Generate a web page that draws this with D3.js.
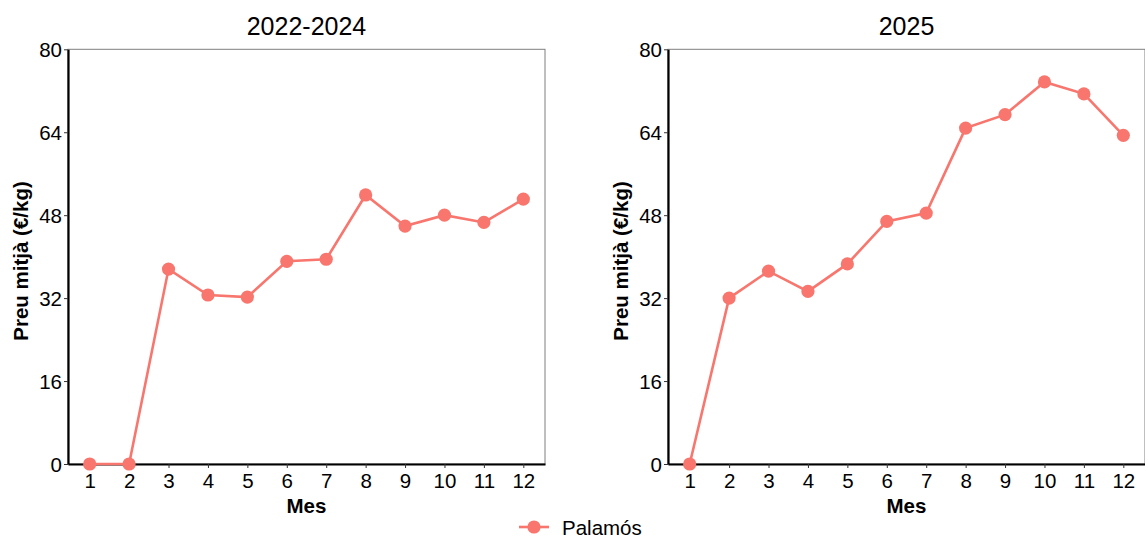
<!DOCTYPE html>
<html><head><meta charset="utf-8">
<script src="https://cdn.jsdelivr.net/npm/d3@7"></script>
<style>body{margin:0;background:#fff;}svg{display:block;font-family:"Liberation Sans",Arial,sans-serif;}</style>
</head><body>
<svg id="c" width="1145" height="539"></svg>
<script>
const months = [1,2,3,4,5,6,7,8,9,10,11,12];
const panelTitles = ["2022-2024", "2025"];
const values2022_2024 = [0, 0, 37.6, 32.6, 32.2, 39.1, 39.5, 51.9, 45.9, 48.0, 46.6, 51.1];
const values2025 = [0, 32.0, 37.2, 33.3, 38.6, 46.8, 48.4, 64.8, 67.4, 73.7, 71.4, 63.4];
const yTicks = [0, 16, 32, 48, 64, 80];
const seriesName = "Palamós";
const yLabel = "Preu mitjà (€/kg)";
const xLabel = "Mes";
const color = "#F8766D";

const svg = d3.select("#c");
const panels = [
  {title: panelTitles[0], values: values2022_2024, left: 68},
  {title: panelTitles[1], values: values2025, left: 668}
];
const plotTop = 49.3, plotBottom = 464, plotWidth = 477;

panels.forEach(p => {
  const x = d3.scaleLinear().domain([0.45, 12.55]).range([p.left, p.left + plotWidth]);
  const y = d3.scaleLinear().domain([0, 80]).range([plotBottom, plotTop]);
  const g = svg.append("g");
  g.append("rect").attr("x", p.left).attr("y", plotTop).attr("width", plotWidth).attr("height", plotBottom - plotTop)
    .attr("fill", "none").attr("stroke", "#7f7f7f").attr("stroke-width", 1);
  const xa = g.append("g").attr("transform", `translate(0,${plotBottom})`)
    .call(d3.axisBottom(x).tickValues(months).tickSize(4).tickSizeOuter(0).tickFormat(d3.format("d")));
  const ya = g.append("g").attr("transform", `translate(${p.left},0)`)
    .call(d3.axisLeft(y).tickValues(yTicks).tickSize(4).tickSizeOuter(0));
  [xa, ya].forEach(a => {
    a.select(".domain").attr("stroke", "#000").attr("stroke-width", 2.2);
    a.selectAll(".tick line").attr("stroke", "#333").attr("stroke-width", 1);
    a.selectAll(".tick text").attr("fill", "#000").attr("font-size", 20.5)
      .attr("font-family", "'Liberation Sans',Arial,sans-serif");
  });
  xa.selectAll(".tick text").attr("dy", "0.83em");
  ya.selectAll(".tick text").attr("dy", "0.36em").attr("x", -6);
  g.append("text").attr("x", p.left + plotWidth / 2).attr("y", 34.5).attr("text-anchor", "middle")
    .attr("font-size", 25).text(p.title);
  g.append("text").attr("x", p.left + plotWidth / 2).attr("y", 513).attr("text-anchor", "middle")
    .attr("font-size", 20.5).attr("font-weight", "bold").text(xLabel);
  g.append("text").attr("transform", `translate(${p.left - 40},261) rotate(-90)`)
    .attr("text-anchor", "middle").attr("font-size", 20.5).attr("font-weight", "bold").text(yLabel);
  const data = months.map((m, i) => ({m, v: p.values[i]}));
  g.append("path").datum(data).attr("fill", "none").attr("stroke", color).attr("stroke-width", 2.6)
    .attr("d", d3.line().x(d => x(d.m)).y(d => y(d.v)));
  g.selectAll("circle.pt").data(data).enter().append("circle").attr("class", "pt")
    .attr("cx", d => x(d.m)).attr("cy", d => y(d.v)).attr("r", 6.6).attr("fill", color);
});

const lg = svg.append("g");
lg.append("line").attr("x1", 519).attr("x2", 549).attr("y1", 527).attr("y2", 527)
  .attr("stroke", color).attr("stroke-width", 2.6);
lg.append("circle").attr("cx", 534).attr("cy", 527).attr("r", 6.6).attr("fill", color);
lg.append("text").attr("x", 562).attr("y", 534.5).attr("font-size", 20.5).text(seriesName);
</script>
</body></html>
